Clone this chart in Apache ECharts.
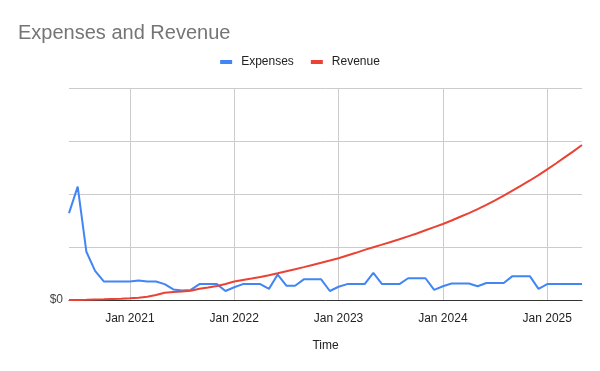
<!DOCTYPE html>
<html>
<head>
<meta charset="utf-8">
<script src="https://cdn.jsdelivr.net/npm/echarts@6/dist/echarts.min.js"></script>
<style>
html,body{margin:0;padding:0;background:#fff;}
#chart{width:600px;height:371px;}
</style>
</head>
<body>
<div id="chart"></div>
<script>
const months = [
  'Jun 2020','Jul 2020','Aug 2020','Sep 2020','Oct 2020','Nov 2020','Dec 2020',
  'Jan 2021','Feb 2021','Mar 2021','Apr 2021','May 2021','Jun 2021','Jul 2021','Aug 2021','Sep 2021','Oct 2021','Nov 2021','Dec 2021',
  'Jan 2022','Feb 2022','Mar 2022','Apr 2022','May 2022','Jun 2022','Jul 2022','Aug 2022','Sep 2022','Oct 2022','Nov 2022','Dec 2022',
  'Jan 2023','Feb 2023','Mar 2023','Apr 2023','May 2023','Jun 2023','Jul 2023','Aug 2023','Sep 2023','Oct 2023','Nov 2023','Dec 2023',
  'Jan 2024','Feb 2024','Mar 2024','Apr 2024','May 2024','Jun 2024','Jul 2024','Aug 2024','Sep 2024','Oct 2024','Nov 2024','Dec 2024',
  'Jan 2025','Feb 2025','Mar 2025','Apr 2025','May 2025'
];
const expenses = [
  16400, 21400, 9100, 5500, 3500, 3500, 3500,
  3500, 3700, 3500, 3500, 3000, 2000, 1800, 1900, 3000, 3000, 3000, 1700,
  2400, 3000, 3000, 3000, 2100, 4800, 2700, 2700, 3900, 3900, 3900, 1700,
  2500, 3000, 3000, 3000, 5100, 3000, 3000, 3000, 4100, 4100, 4100, 1900,
  2600, 3100, 3100, 3100, 2600, 3200, 3200, 3200, 4500, 4500, 4500, 2100,
  3000, 3000, 3000, 3000, 3000
];
const revenue = [
  0, 0, 30, 80, 120, 200, 250,
  320, 430, 620, 940, 1380, 1510, 1600, 1740, 2130, 2360, 2640, 3020,
  3500, 3780, 4060, 4350, 4680, 5040, 5420, 5800, 6200, 6620, 7020, 7440,
  7870, 8400, 8900, 9450, 9950, 10450, 10950, 11450, 12000, 12550, 13150, 13750,
  14340, 15000, 15700, 16400, 17150, 17950, 18800, 19700, 20650, 21600, 22550, 23550,
  24660, 25750, 26900, 28050, 29250
];
const seriesNames = ['Expenses', 'Revenue'];
const yTickLabels = {0: '$0'};
const titleText = 'Expenses and Revenue';
const xAxisName = 'Time';

const isJan = (i, v) => String(v).indexOf('Jan') === 0;

const chart = echarts.init(document.getElementById('chart'), null, {renderer: 'canvas'});
chart.setOption({
  animation: false,
  backgroundColor: '#ffffff',
  textStyle: {fontFamily: 'Arial, "Liberation Sans", sans-serif'},
  title: {
    text: titleText,
    left: 18, top: 23, padding: 0,
    textStyle: {fontSize: 20, fontWeight: 'normal', color: '#757575', fontFamily: 'Arial, "Liberation Sans", sans-serif'}
  },
  legend: {
    data: seriesNames,
    left: 'center', top: 56, padding: 0,
    icon: 'rect', itemWidth: 12, itemHeight: 4, itemGap: 17,
    textStyle: {fontSize: 12, color: '#222', padding: [0, 0, 0, 4]}
  },
  grid: {left: 69, right: 18, top: 88, bottom: 71, containLabel: false},
  xAxis: {
    type: 'category',
    data: months,
    boundaryGap: false,
    name: xAxisName,
    nameLocation: 'middle',
    nameGap: 40,
    nameTextStyle: {fontSize: 12, color: '#222'},
    axisLine: {show: true, lineStyle: {color: '#333', width: 1}},
    axisTick: {show: false},
    axisLabel: {interval: isJan, fontSize: 12, color: '#222', margin: 13},
    splitLine: {show: true, interval: isJan, lineStyle: {color: '#cccccc', width: 1}}
  },
  yAxis: {
    type: 'value',
    min: 0, max: 40000, interval: 10000,
    axisLine: {show: false},
    axisTick: {show: false},
    axisLabel: {fontSize: 12, color: '#444', margin: 6, padding: [3, 0, 0, 0], formatter: v => (yTickLabels[v] !== undefined ? yTickLabels[v] : '')},
    splitLine: {show: true, lineStyle: {color: '#cccccc', width: 1}}
  },
  series: [
    {name: seriesNames[0], type: 'line', data: expenses, symbol: 'none', lineStyle: {width: 2, color: '#4285f4'}, itemStyle: {color: '#4285f4'}},
    {name: seriesNames[1], type: 'line', data: revenue, symbol: 'none', lineStyle: {width: 2, color: '#ea4335'}, itemStyle: {color: '#ea4335'}}
  ]
});
</script>
</body>
</html>
